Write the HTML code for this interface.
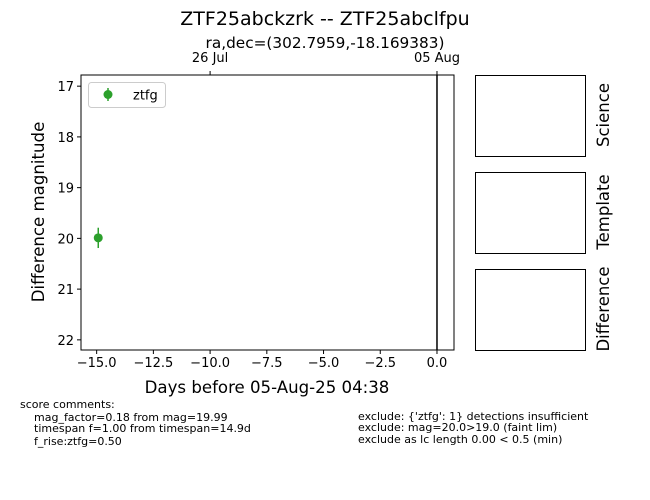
<!DOCTYPE html>
<html><head><meta charset="utf-8"><style>
body{margin:0;background:#fff}
svg{display:block;font-family:"DejaVu Sans","Liberation Sans",sans-serif}
</style></head><body>
<svg id="c" width="650" height="500"></svg>
<script>
const times=[-14.93];
const mags=[19.99];
const errs=[0.2];
const xTicks=[-15,-12.5,-10,-7.5,-5,-2.5,0];
const xTickLabels=["−15.0","−12.5","−10.0","−7.5","−5.0","−2.5","0.0"];
const yTicks=[17,18,19,20,21,22];
const topTicks=[-10,0];
const topLabels=["26 Jul","05 Aug"];
const X0=81,X1=454,Y0=75,Y1=350;
const xmin=-15.69,xmax=0.75,ymin=16.78,ymax=22.2;
const sx=v=>X0+(v-xmin)/(xmax-xmin)*(X1-X0);
const sy=v=>Y0+(v-ymin)/(ymax-ymin)*(Y1-Y0);
const svg=document.getElementById('c');
const NS='http://www.w3.org/2000/svg';
function mk(tag,attrs,txt){const e=document.createElementNS(NS,tag);for(const k in attrs)e.setAttribute(k,attrs[k]);if(txt!==undefined)e.textContent=txt;svg.appendChild(e);return e;}
let e;
e=mk('text',{x:325,y:25,'text-anchor':'middle','font-size':19},'ZTF25abckzrk -- ZTF25abclfpu');


e=mk('text',{x:325,y:48,'text-anchor':'middle','font-size':15.3},'ra,dec=(302.7959,-18.169383)');


e=mk('rect',{x:X0,y:Y0,width:X1-X0,height:Y1-Y0,fill:'none',stroke:'#000','stroke-width':1});


xTicks.forEach((t,i)=>{
 mk('line',{x1:sx(t),x2:sx(t),y1:Y1,y2:Y1+4,stroke:'#000'});
 e=mk('text',{x:sx(t),y:Y1+17,'text-anchor':'middle','font-size':13},xTickLabels[i]);
 
 
});
yTicks.forEach(t=>{
 mk('line',{x1:X0-4,x2:X0,y1:sy(t),y2:sy(t),stroke:'#000'});
 e=mk('text',{x:X0-7,y:sy(t)+5,'text-anchor':'end','font-size':13},String(t));
 
 
});
topTicks.forEach((t,i)=>{
 mk('line',{x1:sx(t),x2:sx(t),y1:Y0-4,y2:Y0,stroke:'#000'});
 e=mk('text',{x:sx(t),y:Y0-13,'text-anchor':'middle','font-size':13},topLabels[i]);
 
 
});
e=mk('line',{x1:sx(0),x2:sx(0),y1:Y0,y2:Y1,stroke:'#000','stroke-width':1.5});


e=mk('text',{x:267,y:393,'text-anchor':'middle','font-size':16.6},'Days before 05-Aug-25 04:38');


e=mk('text',{x:44,y:212,'text-anchor':'middle','font-size':16.6,transform:'rotate(-90 44 212)'},'Difference magnitude');


times.forEach((t,i)=>{
 e=mk('line',{x1:sx(t),x2:sx(t),y1:sy(mags[i]-errs[i]),y2:sy(mags[i]+errs[i]),stroke:'#2ca02c','stroke-width':1.5});
 
 
 e=mk('circle',{cx:sx(t),cy:sy(mags[i]),r:4.5,fill:'#2ca02c'});
 
 
});
e=mk('rect',{x:88.5,y:82.5,width:77,height:25,rx:3,fill:'#fff',stroke:'#ccc'});


mk('line',{x1:108,x2:108,y1:88,y2:101,stroke:'#2ca02c','stroke-width':1.5});
mk('circle',{cx:108,cy:94.5,r:4.5,fill:'#2ca02c'});
e=mk('text',{x:133,y:99.5,'font-size':13},'ztfg');


[["Science",75],["Template",172],["Difference",269]].forEach(([n,y])=>{
 e=mk('rect',{x:475.5,y:y+0.5,width:110,height:81,fill:'none',stroke:'#000'});
 
 
 e=mk('text',{x:609,y:y+40,'text-anchor':'middle','font-size':16.5,transform:`rotate(-90 609 ${y+40})`},n);
 
 
});
const left=[["score comments:",20,408],["mag_factor=0.18 from mag=19.99",34,421],["timespan f=1.00 from timespan=14.9d",34,432],["f_rise:ztfg=0.50",34,445]];
const right=[["exclude: {'ztfg': 1} detections insufficient",358,420],["exclude: mag=20.0>19.0 (faint lim)",358,431],["exclude as lc length 0.00 < 0.5 (min)",358,443]];
left.concat(right).forEach(([s,x,y])=>{
 e=mk('text',{x:x,y:y,'font-size':11},s);
 
 
});
</script>
</body></html>
